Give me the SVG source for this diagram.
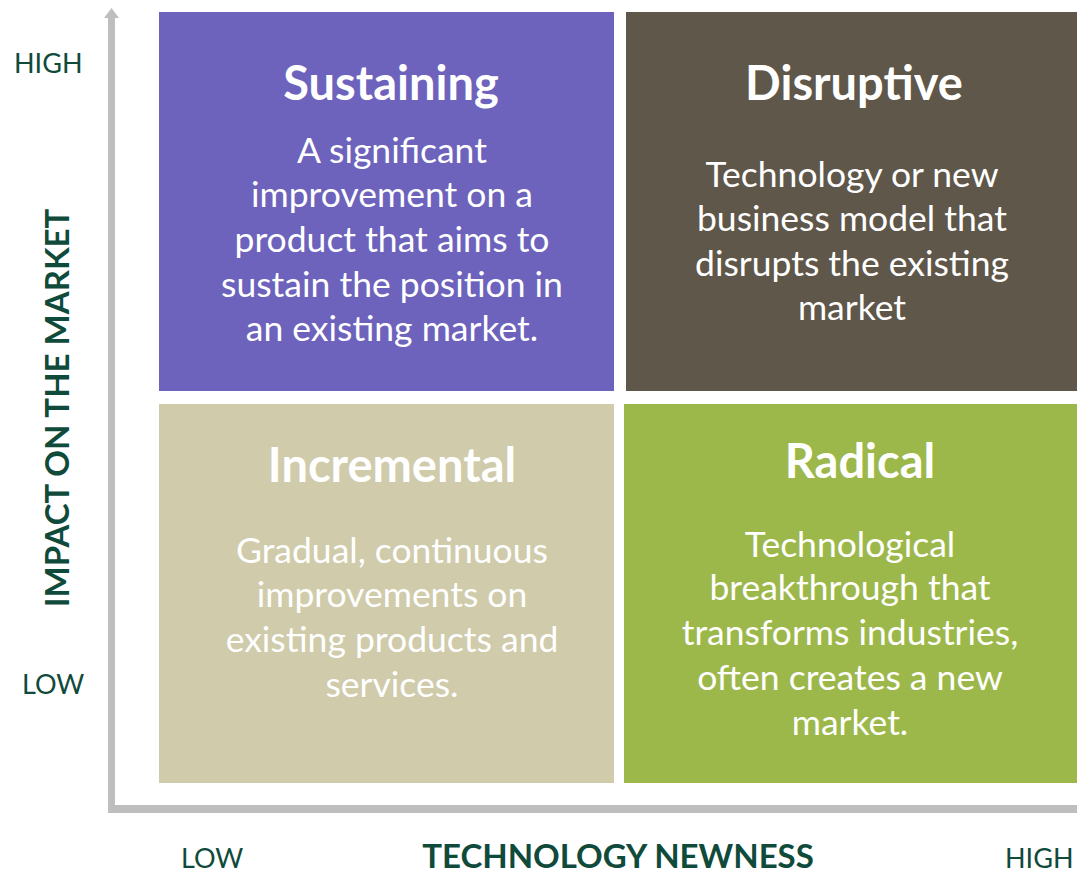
<svg xmlns="http://www.w3.org/2000/svg" width="1077" height="874" viewBox="0 0 1077 874">
  <style>
    .title { font-family: Lato, "Open Sans", sans-serif; font-weight: bold; font-size: 47px; fill: #ffffff; text-anchor: middle; }
    .body { font-family: Lato, "Open Sans", sans-serif; font-size: 35.5px; fill: #ffffff; text-anchor: middle; }
    .tick { font-family: Lato, "Open Sans", sans-serif; font-size: 27px; fill: #0f4a3b; }
    .axis-title { font-family: Lato, "Open Sans", sans-serif; font-weight: bold; font-size: 33px; fill: #0f4a3b; text-anchor: middle; }
  </style>
  <rect width="1077" height="874" fill="#ffffff"/>

  <!-- axes -->
  <g id="axes" fill="#bebebe">
    <rect x="108" y="14" width="7" height="799"/>
    <polygon points="104,18 111.5,8 119,18"/>
    <rect x="108" y="805" width="969" height="8"/>
  </g>

  <g id="sustaining">
    <rect x="159" y="12" width="455" height="379" fill="#6d63bc"/>
    <text class="title" x="391" y="100">Sustaining</text>
    <text class="body" x="392" y="163">A significant</text>
    <text class="body" x="392" y="207">improvement on a</text>
    <text class="body" x="392" y="252">product that aims to</text>
    <text class="body" x="392" y="297">sustain the position in</text>
    <text class="body" x="392" y="341">an existing market.</text>
  </g>

  <g id="disruptive">
    <rect x="626" y="12" width="451" height="379" fill="#5f574a"/>
    <text class="title" x="854" y="100">Disruptive</text>
    <text class="body" x="852" y="187">Technology or new</text>
    <text class="body" x="852" y="231">business model that</text>
    <text class="body" x="852" y="276">disrupts the existing</text>
    <text class="body" x="852" y="320">market</text>
  </g>

  <g id="incremental">
    <rect x="159" y="404" width="455" height="379" fill="#cfcbab"/>
    <text class="title" x="392" y="482">Incremental</text>
    <text class="body" x="392" y="563">Gradual, continuous</text>
    <text class="body" x="392" y="607">improvements on</text>
    <text class="body" x="392" y="652">existing products and</text>
    <text class="body" x="392" y="697">services.</text>
  </g>

  <g id="radical">
    <rect x="624" y="404" width="453" height="379" fill="#9db84a"/>
    <text class="title" x="860" y="478">Radical</text>
    <text class="body" x="850" y="557">Technological</text>
    <text class="body" x="850" y="600">breakthrough that</text>
    <text class="body" x="850" y="645">transforms industries,</text>
    <text class="body" x="850" y="690">often creates a new</text>
    <text class="body" x="850" y="735">market.</text>
  </g>

  <!-- axis labels -->
  <g id="labels">
    <text class="tick" x="14" y="73">HIGH</text>
    <text class="tick" x="22" y="694">LOW</text>
    <text class="tick" x="181" y="868">LOW</text>
    <text class="tick" x="1005" y="868">HIGH</text>
    <text class="axis-title" x="618" y="868">TECHNOLOGY NEWNESS</text>
    <text class="axis-title" transform="translate(69,408) rotate(-90)">IMPACT ON THE MARKET</text>
  </g>
</svg>
